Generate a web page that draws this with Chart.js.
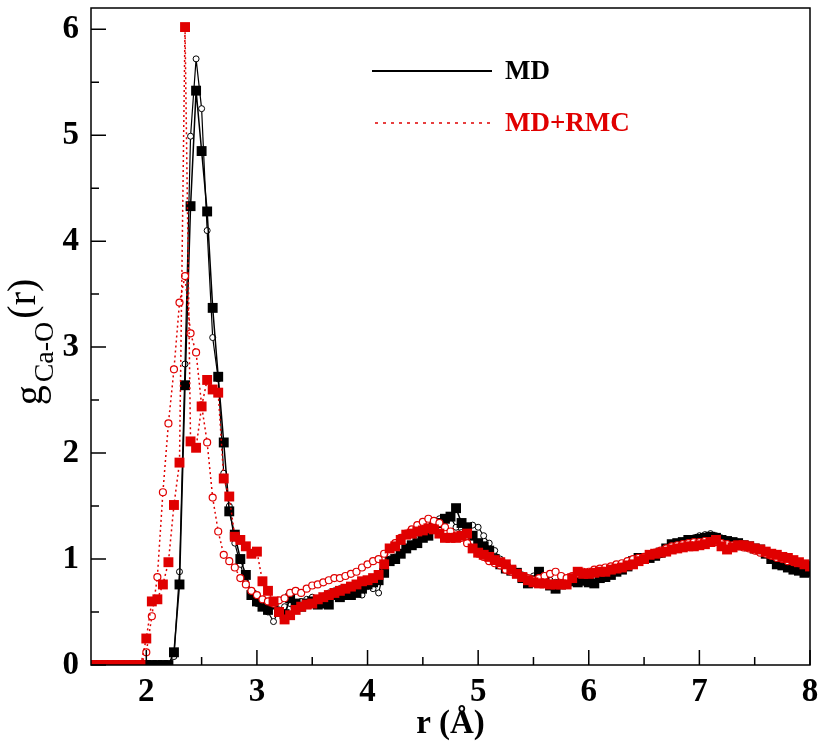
<!DOCTYPE html>
<html>
<head>
<meta charset="utf-8">
<script src="https://cdn.jsdelivr.net/npm/chart.js@4.4.1/dist/chart.umd.min.js"></script>
<style>
  html, body { margin: 0; padding: 0; background: #fff; }
  #wrap { width: 821px; height: 747px; }
</style>
</head>
<body>
<div id="wrap"><canvas id="gr"></canvas></div>
<script>
// r grid (Å)
const r = [
  1.50,1.55,1.60,1.65,1.70,1.75,1.80,1.85,1.90,1.95,
  2.00,2.05,2.10,2.15,2.20,2.25,2.30,2.35,2.40,2.45,
  2.50,2.55,2.60,2.65,2.70,2.75,2.80,2.85,2.90,2.95,
  3.00,3.05,3.10,3.15,3.20,3.25,3.30,3.35,3.40,3.45,
  3.50,3.55,3.60,3.65,3.70,3.75,3.80,3.85,3.90,3.95,
  4.00,4.05,4.10,4.15,4.20,4.25,4.30,4.35,4.40,4.45,
  4.50,4.55,4.60,4.65,4.70,4.75,4.80,4.85,4.90,4.95,
  5.00,5.05,5.10,5.15,5.20,5.25,5.30,5.35,5.40,5.45,
  5.50,5.55,5.60,5.65,5.70,5.75,5.80,5.85,5.90,5.95,
  6.00,6.05,6.10,6.15,6.20,6.25,6.30,6.35,6.40,6.45,
  6.50,6.55,6.60,6.65,6.70,6.75,6.80,6.85,6.90,6.95,
  7.00,7.05,7.10,7.15,7.20,7.25,7.30,7.35,7.40,7.45,
  7.50,7.55,7.60,7.65,7.70,7.75,7.80,7.85,7.90,7.95,
  8.00
];

// MD, filled squares
const mdSq = [
  0,0,0,0,0,0,0,0,0,0,
  0,0,0,0,0,0.12,0.76,2.64,4.33,5.42,
  4.85,4.28,3.37,2.72,2.10,1.45,1.23,1.00,0.85,0.66,
  0.60,0.55,0.52,0.57,0.50,0.48,0.63,0.58,0.55,0.58,
  0.60,0.57,0.58,0.57,0.66,0.64,0.66,0.66,0.68,0.72,
  0.76,0.78,0.80,0.87,0.98,1.00,1.05,1.10,1.13,1.15,
  1.20,1.22,1.30,1.34,1.38,1.40,1.48,1.34,1.30,1.22,
  1.15,1.12,1.08,1.00,0.95,0.91,0.89,0.87,0.82,0.77,
  0.80,0.88,0.80,0.75,0.72,0.76,0.79,0.79,0.78,0.80,
  0.78,0.77,0.82,0.83,0.85,0.88,0.90,0.93,0.98,1.01,
  1.00,1.01,1.03,1.06,1.10,1.14,1.15,1.16,1.18,1.18,
  1.19,1.20,1.21,1.20,1.18,1.17,1.16,1.15,1.13,1.12,
  1.10,1.09,1.05,1.00,0.95,0.94,0.92,0.90,0.89,0.87,
  0.88
];

// MD, open circles
const mdCi = [
  0,0,0,0,0,0,0,0,0,0,
  0,0,0,0,0,0.08,0.88,2.84,4.99,5.72,
  5.25,4.10,3.09,2.70,1.81,1.50,1.15,0.95,0.78,0.68,
  0.58,0.55,0.50,0.41,0.52,0.55,0.58,0.55,0.60,0.62,
  0.64,0.62,0.65,0.68,0.70,0.72,0.70,0.68,0.72,0.66,
  0.74,0.72,0.68,0.90,1.00,1.02,1.06,1.10,1.14,1.18,
  1.25,1.30,1.35,1.38,1.36,1.40,1.30,1.25,1.28,1.32,
  1.30,1.22,1.15,1.08,1.00,0.95,0.90,0.88,0.85,0.80,
  0.84,0.86,0.82,0.80,0.78,0.82,0.80,0.78,0.80,0.78,
  0.80,0.82,0.84,0.86,0.85,0.88,0.92,0.94,0.96,0.98,
  1.00,1.02,1.05,1.04,1.08,1.12,1.15,1.17,1.19,1.20,
  1.22,1.23,1.24,1.22,1.20,1.18,1.17,1.16,1.14,1.12,
  1.10,1.08,1.06,1.04,1.02,1.00,0.98,0.96,0.94,0.92,
  0.90
];

// MD+RMC, filled squares
const rmcSq = [
  0,0,0,0,0,0,0,0,0,0,
  0.25,0.60,0.62,0.76,0.97,1.51,1.91,6.02,2.11,2.05,
  2.44,2.69,2.60,2.57,1.76,1.59,1.21,1.18,1.12,1.05,
  1.07,0.79,0.70,0.60,0.50,0.43,0.47,0.52,0.55,0.57,
  0.58,0.62,0.64,0.66,0.68,0.70,0.72,0.74,0.76,0.79,
  0.80,0.82,0.85,0.95,1.10,1.12,1.18,1.23,1.24,1.26,
  1.27,1.29,1.28,1.24,1.20,1.20,1.20,1.22,1.24,1.10,
  1.06,1.04,1.02,0.99,0.97,0.95,0.90,0.86,0.83,0.80,
  0.78,0.77,0.77,0.76,0.76,0.76,0.76,0.82,0.88,0.86,
  0.86,0.87,0.88,0.88,0.90,0.91,0.92,0.94,0.95,0.98,
  1.00,1.04,1.05,1.06,1.07,1.09,1.10,1.11,1.12,1.12,
  1.13,1.14,1.16,1.18,1.12,1.09,1.11,1.13,1.13,1.12,
  1.10,1.09,1.07,1.05,1.04,1.02,1.01,0.99,0.97,0.95,
  0.93
];

// MD+RMC, open circles
const rmcCi = [
  0,0,0,0,0,0,0,0,0,0,
  0.12,0.46,0.83,1.63,2.28,2.79,3.42,3.67,3.13,2.95,
  2.45,2.10,1.58,1.26,1.04,0.98,0.92,0.82,0.76,0.70,
  0.66,0.62,0.60,0.58,0.61,0.63,0.68,0.70,0.68,0.72,
  0.75,0.76,0.78,0.80,0.82,0.82,0.84,0.86,0.88,0.92,
  0.95,0.98,1.00,1.05,1.10,1.15,1.20,1.24,1.28,1.32,
  1.35,1.38,1.36,1.34,1.30,1.26,1.22,1.20,1.15,1.10,
  1.05,1.02,0.98,0.96,0.94,0.90,0.88,0.86,0.84,0.82,
  0.80,0.82,0.84,0.86,0.88,0.84,0.82,0.84,0.86,0.88,
  0.88,0.90,0.91,0.92,0.93,0.95,0.96,0.98,1.00,1.01,
  1.02,1.04,1.06,1.08,1.10,1.12,1.13,1.14,1.15,1.16,
  1.16,1.17,1.17,1.16,1.15,1.14,1.13,1.12,1.11,1.10,
  1.08,1.06,1.05,1.03,1.01,1.00,0.98,0.97,0.96,0.95,
  0.94
];

const xMajor = [2, 3, 4, 5, 6, 7, 8];
const xMinor = [2.5, 3.5, 4.5, 5.5, 6.5, 7.5];
const yMajor = [0, 1, 2, 3, 4, 5, 6];
const yMinor = [0.5, 1.5, 2.5, 3.5, 4.5, 5.5];

const RED = '#e00000';
const SERIF = '"Liberation Serif", "Times New Roman", serif';

const pts = ys => r.map((x, i) => ({ x: x, y: ys[i] }));

// frame, inward ticks, legend and y title
const decor = {
    id: 'decor',
    afterDraw(chart) {
        const ctx = chart.ctx;
        const a = chart.chartArea;
        const sx = chart.scales.x, sy = chart.scales.y;
        ctx.save();
        ctx.strokeStyle = '#000';
        ctx.lineWidth = 1.5;
        ctx.strokeRect(a.left, a.top, a.right - a.left, a.bottom - a.top);
        ctx.beginPath();
        xMajor.forEach(v => { const p = sx.getPixelForValue(v); ctx.moveTo(p, a.bottom); ctx.lineTo(p, a.bottom - 15); });
        xMinor.forEach(v => { const p = sx.getPixelForValue(v); ctx.moveTo(p, a.bottom); ctx.lineTo(p, a.bottom - 8); });
        yMajor.forEach(v => { const p = sy.getPixelForValue(v); ctx.moveTo(a.left, p); ctx.lineTo(a.left + 15, p); });
        yMinor.forEach(v => { const p = sy.getPixelForValue(v); ctx.moveTo(a.left, p); ctx.lineTo(a.left + 8, p); });
        ctx.stroke();

        // legend
        ctx.lineWidth = 2;
        ctx.beginPath();
        ctx.moveTo(372, 71); ctx.lineTo(492, 71);
        ctx.stroke();
        ctx.strokeStyle = RED;
        ctx.lineWidth = 1.5;
        ctx.setLineDash([3, 5]);
        ctx.beginPath();
        ctx.moveTo(375, 123); ctx.lineTo(492, 123);
        ctx.stroke();
        ctx.setLineDash([]);
        ctx.textBaseline = 'middle';
        ctx.textAlign = 'left';
        ctx.font = 'bold 27px ' + SERIF;
        ctx.fillStyle = '#000';
        ctx.fillText('MD', 505, 72);
        ctx.fillStyle = RED;
        ctx.fillText('MD+RMC', 505, 124);

        // y title with subscript
        ctx.fillStyle = '#000';
        ctx.translate(40, 342);
        ctx.rotate(-Math.PI / 2);
        const big = '40px ' + SERIF, small = '28px ' + SERIF;
        ctx.font = big; const w1 = ctx.measureText('g').width;
        ctx.font = small; const w2 = ctx.measureText('Ca-O').width;
        ctx.font = big; const w3 = ctx.measureText('(r)').width;
        const gap = 3;
        let x0 = -(w1 + w2 + w3 + 2 * gap) / 2;
        ctx.textBaseline = 'alphabetic';
        ctx.font = big; ctx.fillText('g', x0, 2);
        ctx.font = small; ctx.fillText('Ca-O', x0 + w1 + gap, 13);
        ctx.font = big; ctx.fillText('(r)', x0 + w1 + w2 + 2 * gap, -5);
        ctx.restore();
    }
};

new Chart(document.getElementById('gr'), {
    type: 'scatter',
    data: {
        datasets: [
            {
                label: 'MD+RMC', data: pts(rmcSq), showLine: true,
                borderColor: RED, borderWidth: 1.5, borderDash: [2, 3],
                pointStyle: 'rect', pointRadius: 7, pointBackgroundColor: RED, pointBorderColor: RED, pointBorderWidth: 0
            },
            {
                label: 'MD+RMC b', data: pts(rmcCi), showLine: true,
                borderColor: RED, borderWidth: 1.5, borderDash: [2, 3],
                pointStyle: 'circle', pointRadius: 3.5, pointBackgroundColor: '#fff', pointBorderColor: RED, pointBorderWidth: 1.2
            },
            {
                label: 'MD', data: pts(mdSq), showLine: true,
                borderColor: '#000', borderWidth: 1.5,
                pointStyle: 'rect', pointRadius: 7, pointBackgroundColor: '#000', pointBorderColor: '#000', pointBorderWidth: 0
            },
            {
                label: 'MD b', data: pts(mdCi), showLine: true,
                borderColor: '#000', borderWidth: 1.2,
                pointStyle: 'circle', pointRadius: 3, pointBackgroundColor: '#fff', pointBorderColor: '#000', pointBorderWidth: 1
            }
        ]
    },
    options: {
        responsive: true,
        maintainAspectRatio: false,
        animation: false,
        layout: { padding: { top: 8, right: 11, left: 0, bottom: 0 } },
        plugins: { legend: { display: false }, tooltip: { enabled: false } },
        scales: {
            x: {
                type: 'linear', min: 1.5, max: 8,
                afterBuildTicks: s => { s.ticks = xMajor.map(v => ({ value: v })); },
                afterFit: s => { s.height = 82; s.paddingLeft = 0; s.paddingRight = 0; },
                grid: { display: false, drawTicks: false },
                border: { display: false },
                ticks: { color: '#000', padding: 8, font: { family: SERIF, size: 33, weight: 'bold' } },
                title: { display: true, text: 'r (Å)', color: '#000', padding: { top: 0, bottom: 3 }, font: { family: SERIF, size: 33, weight: 'bold' } }
            },
            y: {
                type: 'linear', min: 0, max: 6.2,
                afterBuildTicks: s => { s.ticks = yMajor.map(v => ({ value: v })); },
                afterFit: s => { s.width = 91; s.paddingTop = 0; s.paddingBottom = 0; },
                grid: { display: false, drawTicks: false },
                border: { display: false },
                ticks: { color: '#000', padding: 12, font: { family: SERIF, size: 33, weight: 'bold' } }
            }
        }
    },
    plugins: [decor]
});
</script>
</body>
</html>
